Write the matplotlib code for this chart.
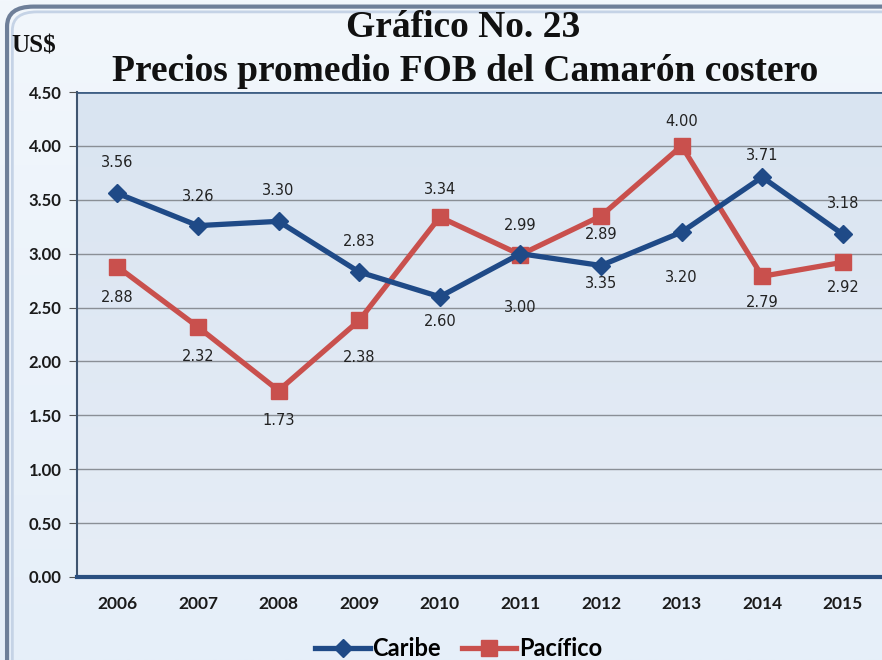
import numpy as np
import matplotlib
matplotlib.use("Agg")
import matplotlib.pyplot as plt
from matplotlib.patches import FancyBboxPatch
from matplotlib.lines import Line2D
from matplotlib.colors import LinearSegmentedColormap

years = ["2006", "2007", "2008", "2009", "2010", "2011", "2012", "2013", "2014", "2015"]
caribe = [3.56, 3.26, 3.30, 2.83, 2.60, 3.00, 2.89, 3.20, 3.71, 3.18]
pacifico = [2.88, 2.32, 1.73, 2.38, 3.34, 2.99, 3.35, 4.00, 2.79, 2.92]
caribe_labels = ["3.56", "3.26", "3.30", "2.83", "2.60", "3.00", "3.35", "3.20", "3.71", "3.18"]
pacifico_labels = ["2.88", "2.32", "1.73", "2.38", "3.34", "2.99", "2.89", "4.00", "2.79", "2.92"]
yticks = [0.0, 0.5, 1.0, 1.5, 2.0, 2.5, 3.0, 3.5, 4.0, 4.5]

# label placement (pixel offsets, positive = up)
caribe_off = [31, 29, 31, 30, -25, -54, -18, -45, 22, 31]
pacifico_off = [-31, -30, -30, -37, 28, 29, -19, 24, -26, -25]

BLUE = "#1F4A87"
RED = "#C9504D"

fig = plt.figure(figsize=(8.82, 6.6), dpi=100)

# background gradient
bg = fig.add_axes([0, 0, 1, 1], zorder=-10)
grad = np.linspace(0, 1, 256).reshape(-1, 1)
cm_bg = LinearSegmentedColormap.from_list("bg", ["#F2F7FC", "#E6EFF9"])
bg.imshow(grad, aspect="auto", cmap=cm_bg, extent=[0, 1, 0, 1], origin="upper")
bg.set_xlim(0, 1); bg.set_ylim(0, 1)
bg.axis("off")
frame = FancyBboxPatch((0.008, -0.05), 1.2, 1.04, boxstyle="round,pad=0,rounding_size=0.03",
                       transform=bg.transAxes, facecolor="none", edgecolor="#6E7F99", linewidth=3)
bg.add_patch(frame)
frame2 = FancyBboxPatch((0.014, -0.05), 1.2, 1.032, boxstyle="round,pad=0,rounding_size=0.028",
                        transform=bg.transAxes, facecolor="none", edgecolor="#C5D3E6", linewidth=2)
bg.add_patch(frame2)

ax = fig.add_axes([0.0873, 0.1258, 0.914, 0.7348])
x = np.arange(len(years))

# plot area gradient
cm_pa = LinearSegmentedColormap.from_list("pa", ["#D9E4F1", "#E6EDF6"])
ax.imshow(grad, aspect="auto", cmap=cm_pa, extent=[-0.5, 9.5, 0, 4.5], origin="upper", zorder=0)

for yt in yticks[1:-1]:
    ax.axhline(yt, color="#8A8F96", linewidth=1.0, zorder=1)

ax.plot(x, caribe, color=BLUE, linewidth=3.8, marker="D", markersize=9, zorder=4,
        solid_joinstyle="miter")
ax.plot(x, pacifico, color=RED, linewidth=3.8, marker="s", markersize=12, zorder=3,
        solid_joinstyle="miter")

for xi, v, lab, off in zip(x, caribe, caribe_labels, caribe_off):
    ax.annotate(lab, (xi, v), xytext=(0, off * 0.72), textcoords="offset points",
                ha="center", va="center", fontsize=10.5, color="#222222",
                family="DejaVu Sans", zorder=6)
for xi, v, lab, off in zip(x, pacifico, pacifico_labels, pacifico_off):
    ax.annotate(lab, (xi, v), xytext=(0, off * 0.72), textcoords="offset points",
                ha="center", va="center", fontsize=10.5, color="#222222",
                family="DejaVu Sans", zorder=6)

ax.set_xlim(-0.5, 9.5)
ax.set_ylim(0, 4.5)
ax.set_yticks(yticks)
ax.set_yticklabels([f"{t:.2f}" for t in yticks], fontsize=12, fontweight="bold",
                   family="Lato", color="#1A1A1A")
ax.set_xticks(x)
ax.set_xticklabels(years, fontsize=12.5, fontweight="bold", family="Lato", color="#1A1A1A")
ax.tick_params(axis="x", length=0, pad=14)
ax.tick_params(axis="y", length=6, color="#555555", pad=5)

for s in ["top", "right"]:
    ax.spines[s].set_visible(False)
ax.spines["left"].set_color("#3F5570")
ax.spines["left"].set_linewidth(1.5)
ax.spines["bottom"].set_color("#2A4F80")
ax.spines["bottom"].set_linewidth(3)
ax.axhline(4.5, color="#3F5F85", linewidth=2.0, zorder=2)

# titles
fig.text(0.525, 0.958, "Gráfico No. 23", ha="center", va="center", fontsize=27,
         fontweight="bold", family="Liberation Serif", color="#111111")
fig.text(0.527, 0.892, "Precios promedio FOB del Camarón costero", ha="center", va="center",
         fontsize=27, fontweight="bold", family="Liberation Serif", color="#111111")
fig.text(0.013, 0.930, "US$", ha="left", va="center", fontsize=18, fontweight="bold",
         family="Liberation Serif", color="#111111")

# legend
handles = [Line2D([], [], color=BLUE, linewidth=3.8, marker="D", markersize=9),
           Line2D([], [], color=RED, linewidth=3.8, marker="s", markersize=12)]
fig.legend(handles, ["Caribe", "Pacífico"], loc="center", bbox_to_anchor=(0.52, 0.017),
           ncol=2, frameon=False, prop={"family": "Lato", "weight": "bold", "size": 17},
           handlelength=2.3, columnspacing=0.9, handletextpad=0.1)

fig.savefig("out.png", dpi=100)
